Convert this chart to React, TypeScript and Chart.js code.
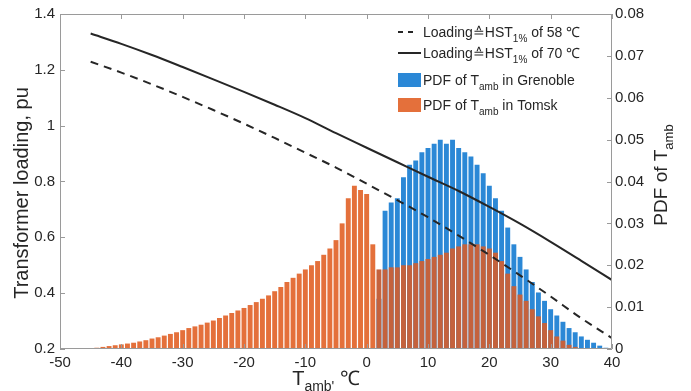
import React, { useEffect, useRef } from 'react';
import { Chart, registerables } from 'chart.js';

Chart.register(...registerables);

// ---------- data ----------
const xTicks = [-50, -40, -30, -20, -10, 0, 10, 20, 30, 40];
const yLeftTicks = [0.2, 0.4, 0.6, 0.8, 1, 1.2, 1.4];
const yRightTicks = [0, 0.01, 0.02, 0.03, 0.04, 0.05, 0.06, 0.07, 0.08];

const loadingTemps = [-45, -40, -35, -30, -25, -20, -15, -10, -5, 0, 5, 10, 15, 20, 25, 30, 35, 40];
const loading70 = [1.33, 1.293, 1.253, 1.21, 1.166, 1.121, 1.075, 1.027, 0.973, 0.921, 0.869, 0.817, 0.766, 0.709, 0.649, 0.584, 0.516, 0.447];
const loading58 = [1.229, 1.19, 1.148, 1.103, 1.056, 1.007, 0.956, 0.903, 0.85, 0.792, 0.733, 0.672, 0.606, 0.537, 0.464, 0.388, 0.31, 0.239];

const tomskTemps = [
  -44, -43, -42, -41, -40, -39, -38, -37, -36, -35, -34, -33, -32, -31, -30, -29, -28, -27, -26, -25,
  -24, -23, -22, -21, -20, -19, -18, -17, -16, -15, -14, -13, -12, -11, -10, -9, -8, -7, -6, -5,
  -4, -3, -2, -1, 0, 1, 2, 3, 4, 5, 6, 7, 8, 9, 10, 11, 12, 13, 14, 15,
  16, 17, 18, 19, 20, 21, 22, 23, 24, 25, 26, 27, 28, 29, 30, 31, 32, 33, 34,
];
const tomskPdf = [
  0.0003, 0.0005, 0.0007, 0.0009, 0.0011, 0.0013, 0.0015, 0.0018, 0.0021, 0.0025, 0.0028, 0.0032, 0.0036, 0.004, 0.0045, 0.005, 0.0054, 0.0058, 0.0063, 0.0068,
  0.0074, 0.008, 0.0086, 0.0092, 0.0098, 0.0105, 0.0112, 0.012, 0.0128, 0.0138, 0.0148, 0.016, 0.017, 0.018, 0.019, 0.02, 0.021, 0.0225, 0.024, 0.026,
  0.03, 0.036, 0.039, 0.038, 0.037, 0.025, 0.019, 0.019, 0.0195, 0.0195, 0.02, 0.02, 0.0205, 0.021, 0.0215, 0.022, 0.0225, 0.023, 0.024, 0.0245,
  0.025, 0.025, 0.025, 0.0245, 0.024, 0.023, 0.021, 0.018, 0.015, 0.013, 0.0115, 0.0095, 0.0078, 0.0062, 0.0045, 0.003, 0.002, 0.001, 0.0005,
];

const grenobleTemps = [
  2, 3, 4, 5, 6, 7, 8, 9, 10, 11, 12, 13, 14, 15, 16, 17, 18, 19, 20, 21,
  22, 23, 24, 25, 26, 27, 28, 29, 30, 31, 32, 33, 34, 35, 36, 37, 38, 39,
];
const grenoblePdf = [
  0.012, 0.033, 0.035, 0.036, 0.041, 0.044, 0.045, 0.047, 0.048, 0.049, 0.05, 0.049, 0.05, 0.048, 0.047, 0.046, 0.044, 0.042, 0.039, 0.036,
  0.033, 0.029, 0.025, 0.022, 0.019, 0.016, 0.0135, 0.0115, 0.0095, 0.008, 0.0065, 0.005, 0.004, 0.003, 0.0022, 0.0015, 0.0008, 0.0003,
];

// ---------- style ----------
const W = 691;
const H = 391;
const FONT = "'Liberation Sans', Arial, Helvetica, sans-serif";
const TXT = '#262626';
const AXIS = '#9a9a9a';
const BLUE = '#2B88D6';
const ORANGE = '#E4703B';
const ORANGE_OVER = '#C4623D';

type Part = { t: string; sub?: boolean };

function drawRich(ctx: CanvasRenderingContext2D, parts: Part[], x: number, y: number, size: number, subSize: number, subDrop: number, align: 'left' | 'center') {
  const widths = parts.map((p) => {
    ctx.font = `${p.sub ? subSize : size}px ${FONT}`;
    return ctx.measureText(p.t).width;
  });
  const total = widths.reduce((a, b) => a + b, 0);
  let cx = align === 'center' ? x - total / 2 : x;
  parts.forEach((p, i) => {
    ctx.font = `${p.sub ? subSize : size}px ${FONT}`;
    ctx.fillText(p.t, cx, p.sub ? y + subDrop : y);
    cx += widths[i];
  });
}

const decorPlugin = {
  id: 'decor',
  afterDraw(chart: any) {
    const { ctx, chartArea } = chart;
    const { left, right, top, bottom } = chartArea;
    const sx = chart.scales.x;
    const sy = chart.scales.y;
    const sy1 = chart.scales.y1;
    ctx.save();
    // box
    ctx.strokeStyle = AXIS;
    ctx.lineWidth = 1;
    ctx.beginPath();
    ctx.rect(left + 0.5, top + 0.5, right - left - 1, bottom - top - 1);
    ctx.stroke();
    // inward ticks
    ctx.beginPath();
    const tl = 5;
    xTicks.forEach((v) => {
      const px = Math.round(sx.getPixelForValue(v)) + 0.5;
      ctx.moveTo(px, bottom);
      ctx.lineTo(px, bottom - tl);
      ctx.moveTo(px, top);
      ctx.lineTo(px, top + tl);
    });
    yLeftTicks.forEach((v) => {
      const py = Math.round(sy.getPixelForValue(v)) + 0.5;
      ctx.moveTo(left, py);
      ctx.lineTo(left + tl, py);
    });
    yRightTicks.forEach((v) => {
      const py = Math.round(sy1.getPixelForValue(v)) + 0.5;
      ctx.moveTo(right, py);
      ctx.lineTo(right - tl, py);
    });
    ctx.stroke();

    ctx.fillStyle = TXT;
    ctx.textBaseline = 'alphabetic';
    ctx.textAlign = 'left';

    // x title
    drawRich(ctx, [{ t: 'T' }, { t: "amb'", sub: true }, { t: ' \u2103' }], 326, 385, 20, 14, 6, 'center');

    // left title
    ctx.save();
    ctx.translate(28, 193);
    ctx.rotate(-Math.PI / 2);
    drawRich(ctx, [{ t: 'Transformer loading, pu' }], 0, 0, 20, 14, 6, 'center');
    ctx.restore();

    // right title
    ctx.save();
    ctx.translate(667, 175);
    ctx.rotate(-Math.PI / 2);
    drawRich(ctx, [{ t: 'PDF of T' }, { t: 'amb', sub: true }], 0, 0, 19, 13, 6, 'center');
    ctx.restore();

    // legend
    const lx = 398;
    const tx = 423;
    ctx.strokeStyle = '#262626';
    ctx.lineWidth = 2;
    ctx.setLineDash([5, 5]);
    ctx.beginPath();
    ctx.moveTo(lx, 32);
    ctx.lineTo(lx + 18, 32);
    ctx.stroke();
    ctx.setLineDash([]);
    ctx.beginPath();
    ctx.moveTo(lx, 53);
    ctx.lineTo(lx + 23, 53);
    ctx.stroke();
    ctx.fillStyle = BLUE;
    ctx.fillRect(lx, 73, 23, 14);
    ctx.fillStyle = ORANGE;
    ctx.fillRect(lx, 98, 23, 14);

    ctx.fillStyle = TXT;
    drawRich(ctx, [{ t: 'Loading\u2259HST' }, { t: '1%', sub: true }, { t: ' of 58 \u2103' }], tx, 37, 14, 10, 5, 'left');
    drawRich(ctx, [{ t: 'Loading\u2259HST' }, { t: '1%', sub: true }, { t: ' of 70 \u2103' }], tx, 58, 14, 10, 5, 'left');
    drawRich(ctx, [{ t: 'PDF of T' }, { t: 'amb', sub: true }, { t: ' in Grenoble' }], tx, 85, 14, 10, 5, 'left');
    drawRich(ctx, [{ t: 'PDF of T' }, { t: 'amb', sub: true }, { t: ' in Tomsk' }], tx, 110, 14, 10, 5, 'left');
    ctx.restore();
  },
};

const fmt = (v: number) => String(Number(v.toFixed(3)));

export default function App() {
  const ref = useRef<HTMLCanvasElement>(null);

  useEffect(() => {
    const canvas = ref.current;
    if (!canvas) return;
    const blueMap = new Map<number, number>(grenobleTemps.map((t, i) => [t, grenoblePdf[i]]));
    const tickFont = { family: FONT, size: 15 };
    const noGrid = { display: false, drawTicks: false, offset: false };

    const chart = new Chart(canvas, {
      type: 'bar',
      data: {
        datasets: [
          {
            type: 'line',
            label: 'Loading 70',
            data: loadingTemps.map((x, i) => ({ x, y: loading70[i] })),
            xAxisID: 'x',
            yAxisID: 'y',
            borderColor: '#262626',
            borderWidth: 2,
            pointRadius: 0,
            cubicInterpolationMode: 'monotone',
            fill: false,
            order: 0,
          } as any,
          {
            type: 'line',
            label: 'Loading 58',
            data: loadingTemps.map((x, i) => ({ x, y: loading58[i] })),
            xAxisID: 'x',
            yAxisID: 'y',
            borderColor: '#262626',
            borderWidth: 2,
            borderDash: [8, 6],
            pointRadius: 0,
            cubicInterpolationMode: 'monotone',
            fill: false,
            order: 0,
          } as any,
          {
            type: 'bar',
            label: 'Tomsk',
            data: tomskTemps.map((x, i) => ({ x, y: tomskPdf[i] })),
            xAxisID: 'x',
            yAxisID: 'y1',
            backgroundColor: (c: any) => {
              const raw = c.raw;
              if (raw && (blueMap.get(raw.x) || 0) > 0) return ORANGE_OVER;
              return ORANGE;
            },
            borderWidth: 0,
            grouped: false,
            barPercentage: 0.8,
            categoryPercentage: 1,
            order: 1,
          } as any,
          {
            type: 'bar',
            label: 'Grenoble',
            data: grenobleTemps.map((x, i) => ({ x, y: grenoblePdf[i] })),
            xAxisID: 'x',
            yAxisID: 'y1',
            backgroundColor: BLUE,
            borderWidth: 0,
            grouped: false,
            barPercentage: 0.8,
            categoryPercentage: 1,
            order: 2,
          } as any,
        ],
      },
      options: {
        responsive: false,
        animation: false,
        devicePixelRatio: 1,
        layout: { padding: { top: 12, left: 0, right: 0, bottom: 0 } },
        plugins: {
          legend: { display: false },
          tooltip: { enabled: false },
          title: { display: false },
        },
        scales: {
          x: {
            type: 'linear',
            position: 'bottom',
            min: -50,
            max: 40,
            offset: false,
            grid: noGrid,
            border: { display: false },
            ticks: { font: tickFont, color: TXT, padding: 5, maxRotation: 0, callback: (v: any) => fmt(Number(v)) },
            afterBuildTicks: (s: any) => {
              s.ticks = xTicks.map((v) => ({ value: v }));
            },
            afterFit: (s: any) => {
              s.height = H - 349;
            },
          },
          y: {
            type: 'linear',
            position: 'left',
            min: 0.2,
            max: 1.4,
            grid: noGrid,
            border: { display: false },
            ticks: { font: tickFont, color: TXT, padding: 5, callback: (v: any) => fmt(Number(v)) },
            afterBuildTicks: (s: any) => {
              s.ticks = yLeftTicks.map((v) => ({ value: v }));
            },
            afterFit: (s: any) => {
              s.width = 60;
            },
          },
          y1: {
            type: 'linear',
            position: 'right',
            min: 0,
            max: 0.08,
            grid: noGrid,
            border: { display: false },
            ticks: { font: tickFont, color: TXT, padding: 3, callback: (v: any) => fmt(Number(v)) },
            afterBuildTicks: (s: any) => {
              s.ticks = yRightTicks.map((v) => ({ value: v }));
            },
            afterFit: (s: any) => {
              s.width = W - 612;
            },
          },
        },
      } as any,
      plugins: [decorPlugin],
    });
    return () => chart.destroy();
  }, []);

  return (
    <div style={{ position: 'fixed', left: 0, top: 0, width: W, height: H, background: '#fff' }}>
      <canvas ref={ref} width={W} height={H} style={{ width: W, height: H, display: 'block' }} />
    </div>
  );
}
